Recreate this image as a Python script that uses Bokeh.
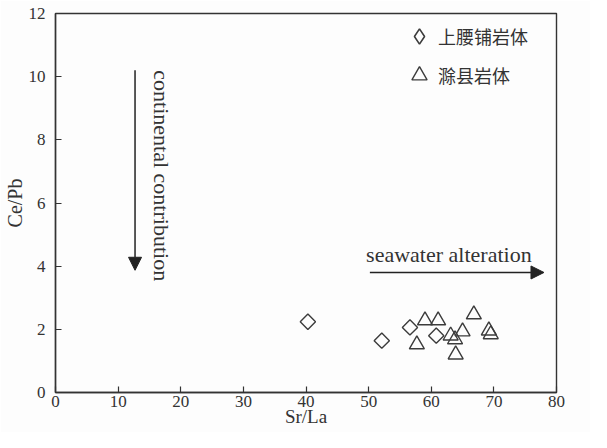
import math
from bokeh.plotting import figure
from bokeh.models import (Range1d, Legend, LegendItem, Arrow, NormalHead,
                          Label, FixedTicker, ColumnDataSource)
from bokeh.embed import file_html
from bokeh.resources import INLINE

# ---- data ----
x_ticks = [0, 10, 20, 30, 40, 50, 60, 70, 80]
y_ticks = [0, 2, 4, 6, 8, 10, 12]

series1_name = "上腰铺岩体"
series1_x = [40.3, 52.1, 56.6, 60.8]
series1_y = [2.24, 1.64, 2.06, 1.80]

series2_name = "滁县岩体"
series2_x = [59.0, 61.1, 57.7, 63.1, 63.8, 65.0, 63.9, 66.8, 69.2, 69.5]
series2_y = [2.28, 2.28, 1.52, 1.80, 1.68, 1.93, 1.20, 2.47, 1.96, 1.84]

SERIF = "Liberation Serif"
CJK = "Noto Sans CJK SC"
INK = "#333333"
MARK = "#3c3c3c"

p = figure(width=590, height=432, output_backend="svg", toolbar_location=None,
           x_range=Range1d(0, 80), y_range=Range1d(0, 12),
           min_border_left=53, min_border_right=34, min_border_top=13,
           min_border_bottom=40)
p.background_fill_color = "#fdfdfd"
p.border_fill_color = "#fdfdfd"
p.grid.visible = False
p.outline_line_color = INK
p.outline_line_width = 1.4

for ax in (p.xaxis[0], p.yaxis[0]):
    ax.axis_line_color = INK
    ax.axis_line_width = 1.4
    ax.major_tick_in = 6
    ax.major_tick_out = 0
    ax.major_tick_line_color = INK
    ax.major_tick_line_width = 1.2
    ax.minor_tick_line_color = None
    ax.major_label_text_font = SERIF
    ax.major_label_text_font_size = "17px"
    ax.major_label_text_color = INK
    ax.axis_label_text_font = SERIF
    ax.axis_label_text_font_style = "normal"
    ax.axis_label_text_color = INK

p.xaxis.ticker = FixedTicker(ticks=x_ticks)
p.yaxis.ticker = FixedTicker(ticks=y_ticks)
p.xaxis.axis_label = "Sr/La"
p.yaxis.axis_label = "Ce/Pb"
p.xaxis.axis_label_text_font_size = "19px"
p.yaxis.axis_label_text_font_size = "20px"
p.xaxis.major_label_standoff = 3
p.yaxis.major_label_standoff = 10
p.xaxis.axis_label_standoff = -4
p.yaxis.axis_label_standoff = 0

src1 = ColumnDataSource(dict(x=series1_x, y=series1_y))
src2 = ColumnDataSource(dict(x=series2_x, y=series2_y))

r1 = p.scatter("x", "y", source=src1, marker="square", angle=math.pi / 4,
               size=10.8, fill_color=None, line_color=MARK, line_width=1.4)
r2 = p.scatter("x", "y", source=src2, marker="triangle",
               size=15, fill_color=None, line_color=MARK, line_width=1.4)

# legend key for the diamond series (legend keys ignore marker angle);
# its single point is NaN so it draws nothing inside the plot
key1 = p.scatter(x=[float("nan")], y=[float("nan")], marker="diamond",
                 fill_color=None, line_color=MARK, line_width=1.6)

common = dict(padding=0, margin=0, spacing=0, border_line_color=None,
              background_fill_alpha=0, label_text_font=CJK,
              label_text_font_size="18px", label_text_color=INK)
leg1 = Legend(items=[LegendItem(label=series1_name, renderers=[key1])],
              location=(345, 337), glyph_width=38, glyph_height=38,
              label_standoff=0, **common)
leg2 = Legend(items=[LegendItem(label=series2_name, renderers=[r2])],
              location=(345, 298), glyph_width=38, glyph_height=38,
              label_standoff=0, **common)
p.add_layout(leg1)
p.add_layout(leg2)

# annotations
p.add_layout(Arrow(end=NormalHead(size=13, fill_color="#222222", line_color="#222222"),
                   x_start=12.7, y_start=10.2, x_end=12.7, y_end=3.87,
                   line_color="#222222", line_width=1.5))
p.add_layout(Label(x=16.9, y=10.2, text="continental contribution",
                   angle=-math.pi / 2, text_align="left", text_baseline="alphabetic",
                   text_font=SERIF, text_font_size="22px", text_color=INK))

p.add_layout(Arrow(end=NormalHead(size=13, fill_color="#222222", line_color="#222222"),
                   x_start=50.2, y_start=3.8, x_end=78.0, y_end=3.8,
                   line_color="#222222", line_width=1.5))
p.add_layout(Label(x=49.6, y=4.38, text="seawater alteration",
                   text_align="left", text_baseline="alphabetic",
                   text_font=SERIF, text_font_size="22px", text_color=INK))

open("out.html", "w").write(file_html(p, INLINE))
